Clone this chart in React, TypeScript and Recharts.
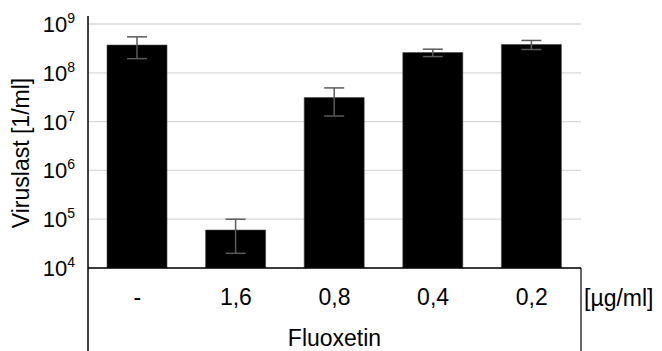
import { Bar, BarChart, CartesianGrid, ErrorBar, XAxis, YAxis, useOffset, useChartWidth, useChartHeight } from 'recharts';

const categories = ['-', '1,6', '0,8', '0,4', '0,2'];
const viralLoad = [3.7e8, 6.0e4, 3.1e7, 2.6e8, 3.8e8];
const errors = [1.75e8, 4.0e4, 1.8e7, 0.45e8, 0.8e8];
const yTicks = [1e4, 1e5, 1e6, 1e7, 1e8, 1e9];

const data = categories.map((name, i) => ({ name, value: viralLoad[i], err: errors[i] }));

const FONT = '"Liberation Sans", Arial, sans-serif';
const FS = 23;

const PowerTick = ({ x, y, payload }: any) => {
  const exp = Math.round(Math.log10(payload.value));
  return (
    <text x={x} y={y} textAnchor="end" fontFamily={FONT} fill="#000">
      <tspan fontSize={22} dy={8}>10</tspan>
      <tspan fontSize={14} dy={-9}>{exp}</tspan>
    </text>
  );
};

const CategoryTick = ({ x, y, payload }: any) => (
  <text x={x} y={y + 29} textAnchor="middle" fontFamily={FONT} fontSize={FS} fill="#000">
    {payload.value}
  </text>
);

const YLabel = ({ viewBox }: any) => {
  const cx = viewBox.x + 29;
  const cy = viewBox.y + viewBox.height / 2 + 7;
  return (
    <text
      x={cx}
      y={cy}
      transform={`rotate(-90 ${cx} ${cy})`}
      textAnchor="middle"
      fontFamily={FONT}
      fontSize={FS}
      fill="#000"
    >
      Viruslast [1/ml]
    </text>
  );
};

// frame below the plot: extended y axis, right border, unit and substance labels
function TableFrame() {
  const offset = useOffset();
  const w = useChartWidth();
  const h = useChartHeight();
  if (!offset || !w || !h) return null;
  const left = offset.left;
  const right = w - offset.right;
  const bottom = h - offset.bottom;
  return (
    <g>
      <line x1={left} x2={left} y1={offset.top - 8} y2={h} stroke="#000" strokeWidth={1.5} />
      <line x1={right} x2={right} y1={bottom} y2={h} stroke="#000" strokeWidth={1.2} />
      <text x={right + 3} y={bottom + 38} fontFamily={FONT} fontSize={FS} fill="#000">
        [µg/ml]
      </text>
      <text x={(left + right) / 2} y={h - 5} textAnchor="middle" fontFamily={FONT} fontSize={FS} fill="#000">
        Fluoxetin
      </text>
    </g>
  );
}

export default function App() {
  return (
    <div style={{ position: 'absolute', left: 0, top: 0, background: '#fff' }}>
      <BarChart
        width={662}
        height={351}
        data={data}
        margin={{ top: 24, right: 81, bottom: 43, left: 0 }}
      >
        <CartesianGrid horizontal vertical={false} stroke="#d9d9d9" strokeWidth={1.3} />
        <XAxis
          dataKey="name"
          height={40}
          axisLine={{ stroke: '#000', strokeWidth: 1.5 }}
          tickLine={false}
          tick={<CategoryTick />}
          interval={0}
        />
        <YAxis
          scale="log"
          domain={[1e4, 1e9]}
          ticks={yTicks}
          width={88}
          axisLine={false}
          tickLine={false}
          tickSize={0}
          tickMargin={13}
          tick={<PowerTick />}
          allowDataOverflow
          label={<YLabel />}
        />
        <Bar dataKey="value" fill="#000" stroke="#444" strokeWidth={0.6} barSize={60} isAnimationActive={false}>
          <ErrorBar dataKey="err" width={10} stroke="#5a5a5a" strokeWidth={1.5} />
        </Bar>
        <TableFrame />
      </BarChart>
    </div>
  );
}
